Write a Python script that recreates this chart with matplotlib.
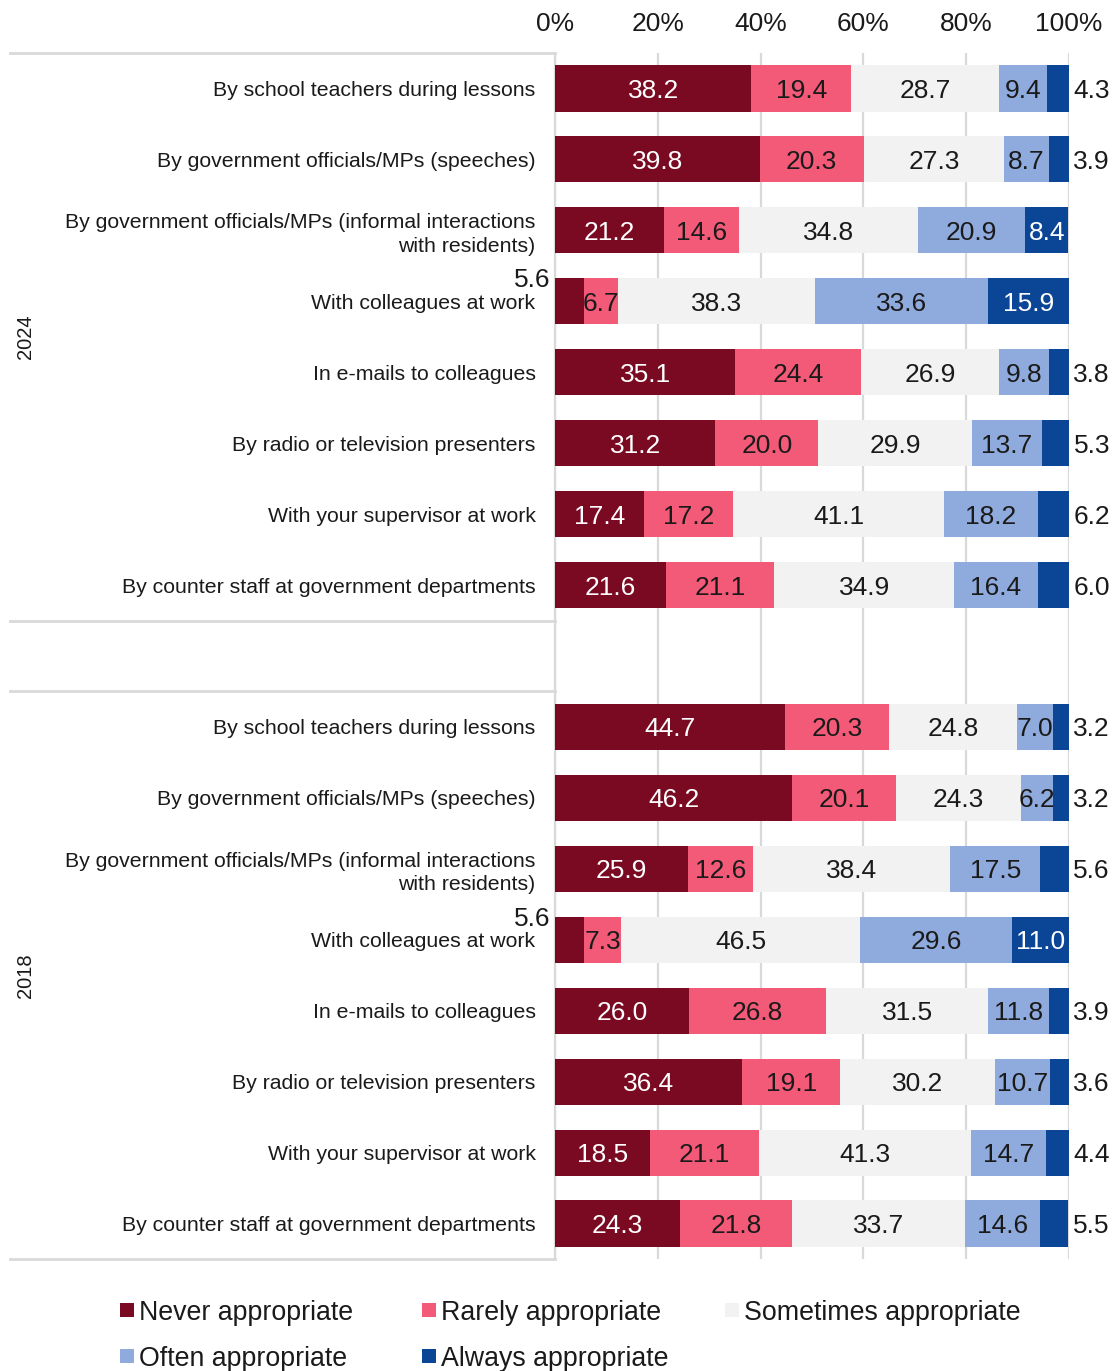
import matplotlib
matplotlib.use("Agg")
import matplotlib.pyplot as plt
import matplotlib.transforms as mtransforms
from matplotlib.patches import Rectangle
import numpy as np

plt.rcParams['font.family'] = ['Liberation Sans', 'DejaVu Sans']

categories = [
    "By school teachers during lessons",
    "By government officials/MPs (speeches)",
    "By government officials/MPs (informal interactions\nwith residents)",
    "With colleagues at work",
    "In e-mails to colleagues",
    "By radio or television presenters",
    "With your supervisor at work",
    "By counter staff at government departments",
]
groups = ["2024", "2018"]
series = ["Never appropriate", "Rarely appropriate", "Sometimes appropriate",
          "Often appropriate", "Always appropriate"]
colors = ["#7A0A22", "#F25A78", "#F2F2F2", "#8FAADC", "#0B4596"]
text_colors = ["white", "black", "black", "black", "white"]

never_2024 = [38.2, 39.8, 21.2, 5.6, 35.1, 31.2, 17.4, 21.6]
rarely_2024 = [19.4, 20.3, 14.6, 6.7, 24.4, 20.0, 17.2, 21.1]
sometimes_2024 = [28.7, 27.3, 34.8, 38.3, 26.9, 29.9, 41.1, 34.9]
often_2024 = [9.4, 8.7, 20.9, 33.6, 9.8, 13.7, 18.2, 16.4]
always_2024 = [4.3, 3.9, 8.4, 15.9, 3.8, 5.3, 6.2, 6.0]

never_2018 = [44.7, 46.2, 25.9, 5.6, 26.0, 36.4, 18.5, 24.3]
rarely_2018 = [20.3, 20.1, 12.6, 7.3, 26.8, 19.1, 21.1, 21.8]
sometimes_2018 = [24.8, 24.3, 38.4, 46.5, 31.5, 30.2, 41.3, 33.7]
often_2018 = [7.0, 6.2, 17.5, 29.6, 11.8, 10.7, 14.7, 14.6]
always_2018 = [3.2, 3.2, 5.6, 11.0, 3.9, 3.6, 4.4, 5.5]

xticks = [0, 20, 40, 60, 80, 100]
xticklabels = ["0%", "20%", "40%", "60%", "80%", "100%"]

data = {
    "2024": [never_2024, rarely_2024, sometimes_2024, often_2024, always_2024],
    "2018": [never_2018, rarely_2018, sometimes_2018, often_2018, always_2018],
}

W, H = 1118, 1371
fig = plt.figure(figsize=(W / 100, H / 100), dpi=100)
ax = fig.add_axes([555 / W, 1 - 1259 / H, (1069 - 555) / W, (1259 - 53) / H])

grid_c = "#D9D9D9"
txt_c = "#1a1a1a"
n = len(categories)
ypos_all = []
ylabels_all = []
for gi, g in enumerate(groups):
    ys = np.arange(n) + gi * (n + 1)
    ypos_all.extend(ys)
    ylabels_all.extend(categories)
    left = np.zeros(n)
    for si, s in enumerate(series):
        vals = np.array(data[g][si])
        ax.barh(ys, vals, left=left, height=0.65, color=colors[si],
                label=s if gi == 0 else None, zorder=3)
        for y, v, l in zip(ys, vals, left):
            if si == 0 and v < 6:
                ax.annotate(f"{v:.1f}", xy=(0, y), xytext=(-3, 17),
                            textcoords="offset points", ha="right",
                            va="center_baseline", fontsize=19, color=txt_c,
                            zorder=5, annotation_clip=False)
            elif si == 4 and v < 7:
                ax.annotate(f"{v:.1f}", xy=(l + v, y), xytext=(3, 0),
                            textcoords="offset points", ha="left",
                            va="center_baseline", fontsize=19, color=txt_c,
                            zorder=5, annotation_clip=False)
            else:
                ax.text(l + v / 2, y, f"{v:.1f}", ha="center",
                        va="center_baseline", fontsize=19,
                        color=text_colors[si] if si in (0, 4) else txt_c,
                        zorder=5)
        left = left + vals

ax.set_xlim(0, 100)
ax.set_ylim(2 * n + 1 - 0.5, -0.5)
ax.set_yticks(ypos_all)
ax.set_yticklabels(ylabels_all, fontsize=15.3, color=txt_c, linespacing=1.3)
ax.set_xticks(xticks)
ax.set_xticklabels(xticklabels, fontsize=19, color=txt_c)
ax.xaxis.tick_top()
ax.tick_params(axis="x", length=0, pad=12)
ax.tick_params(axis="y", length=0, pad=14)
ax.grid(axis="x", color=grid_c, linewidth=1.6, zorder=0)
ax.set_axisbelow(True)
for sp in ["top", "right", "bottom"]:
    ax.spines[sp].set_visible(False)
ax.spines["left"].set_color(grid_c)
ax.spines["left"].set_linewidth(1.6)

# group separator lines and group labels
trans = mtransforms.blended_transform_factory(ax.transAxes, ax.transData)
x0 = (10 - 555) / (1069 - 555)
for yl in [-0.5, n - 0.5, n + 0.5, 2 * n + 0.5]:
    ax.plot([x0, 0], [yl, yl], color=grid_c, linewidth=2, transform=trans,
            clip_on=False, zorder=1)
transf = mtransforms.blended_transform_factory(fig.transFigure, ax.transData)
for gi, g in enumerate(groups):
    yc = gi * (n + 1) + (n - 1) / 2
    ax.text(25 / W, yc, g, rotation=90, ha="center", va="center",
            fontsize=14.5, color=txt_c, transform=transf)

# legend (row-major, placed like the original)
leg_pos = [(120, 1310), (422, 1310), (725, 1310), (120, 1356), (422, 1356)]
sq = 14
for (px, py), c, s in zip(leg_pos, colors, series):
    fig.patches.append(Rectangle((px / W, 1 - (py + sq / 2) / H), sq / W, sq / H,
                                 facecolor=c, edgecolor="none",
                                 transform=fig.transFigure, figure=fig))
    fig.text((px + sq + 5) / W, 1 - py / H, s, ha="left", va="center_baseline",
             fontsize=19.3, color=txt_c)

fig.savefig("out.png", dpi=100)
